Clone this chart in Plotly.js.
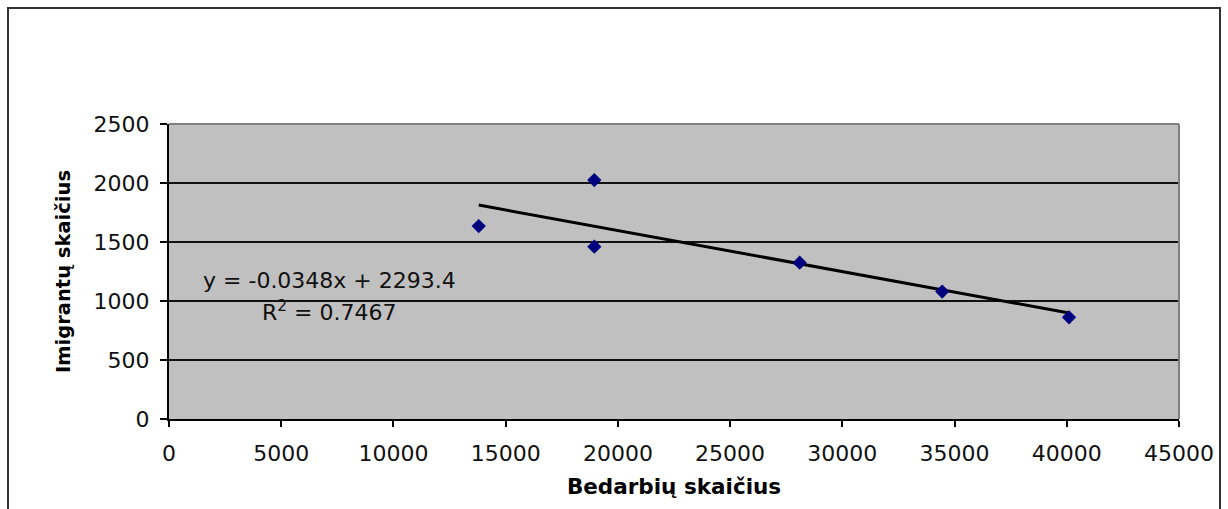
<!DOCTYPE html>
<html>
<head>
<meta charset="utf-8">
<script src="https://cdn.plot.ly/plotly-3.0.1.min.js"></script>
<style>
html,body{margin:0;padding:0;background:#fff;overflow:hidden;}
#chart{position:absolute;left:0;top:0;width:1228px;height:509px;}
#frame{position:absolute;left:7px;top:7px;width:1210px;height:520px;border:2px solid #333;pointer-events:none;}
</style>
</head>
<body>
<div id="chart"></div>
<div id="frame"></div>
<script>
// Data
const bedarbiai = [13800, 18950, 18950, 28100, 34450, 40100];   // x: Bedarbių skaičius
const imigrantai = [1635, 2025, 1460, 1325, 1080, 862];        // y: Imigrantų skaičius
const slope = -0.0348;
const intercept = 2293.4;
const rSquared = 0.7467;
const xTicks = [0, 5000, 10000, 15000, 20000, 25000, 30000, 35000, 40000, 45000];
const yTicks = [0, 500, 1000, 1500, 2000, 2500];

const xMin = Math.min(...bedarbiai), xMax = Math.max(...bedarbiai);
const trendX = [xMin, xMax];
const trendY = trendX.map(v => slope * v + intercept);

const WIDE = 'DejaVu Sans, Liberation Sans, Arial, sans-serif';

const data = [
  {
    x: trendX, y: trendY, type: 'scatter', mode: 'lines',
    line: {color: '#000', width: 3}, hoverinfo: 'skip', showlegend: false
  },
  {
    x: bedarbiai, y: imigrantai, type: 'scatter', mode: 'markers',
    marker: {symbol: 'diamond', color: '#000080', size: 11}, showlegend: false
  }
];

const layout = {
  width: 1228, height: 509,
  margin: {l: 169, r: 49, t: 124, b: 90},
  paper_bgcolor: '#fff',
  plot_bgcolor: '#C0C0C0',
  font: {family: WIDE, size: 22, color: '#000'},
  xaxis: {
    range: [0, 45000], tickvals: xTicks, ticktext: xTicks.map(String),
    showgrid: false, zeroline: false,
    showline: true, linecolor: '#000', linewidth: 2,
    ticks: 'outside', ticklen: 6, tickcolor: '#000', tickwidth: 2,
    ticklabelstandoff: 8,
    tickfont: {family: WIDE, size: 22, color: '#111'},
    title: {text: '<b>Bedarbių skaičius</b>', font: {family: WIDE, size: 21.5, color: '#000'}, standoff: 14}
  },
  yaxis: {
    range: [0, 2500], tickvals: yTicks, ticktext: yTicks.map(String),
    showgrid: true, gridcolor: '#111', gridwidth: 1.5, zeroline: false,
    showline: true, linecolor: '#000', linewidth: 2,
    ticks: 'outside', ticklen: 7, tickcolor: '#000', tickwidth: 2,
    ticklabelstandoff: 6,
    tickfont: {family: WIDE, size: 22, color: '#111'},
    title: {text: '<b>Imigrantų skaičius</b>', font: {family: WIDE, size: 19.5, color: '#000'}, standoff: 18}
  },
  shapes: [
    {type: 'line', xref: 'paper', yref: 'paper', x0: 0, x1: 1, y0: 1, y1: 1, line: {color: '#808080', width: 2}},
    {type: 'line', xref: 'paper', yref: 'paper', x0: 1, x1: 1, y0: 0, y1: 1, line: {color: '#808080', width: 2}}
  ],
  annotations: [
    {xref: 'paper', yref: 'paper', x: 0.032, y: 0.47, xanchor: 'left', yanchor: 'middle', showarrow: false,
     text: 'y = ' + slope + 'x + ' + intercept, font: {family: WIDE, size: 22, color: '#111'}},
    {xref: 'paper', yref: 'paper', x: 0.090, y: 0.365, xanchor: 'left', yanchor: 'middle', showarrow: false,
     text: 'R<sup>2</sup> = ' + rSquared, font: {family: WIDE, size: 22, color: '#111'}}
  ]
};

Plotly.newPlot('chart', data, layout, {displayModeBar: false, staticPlot: true});
</script>
</body>
</html>
